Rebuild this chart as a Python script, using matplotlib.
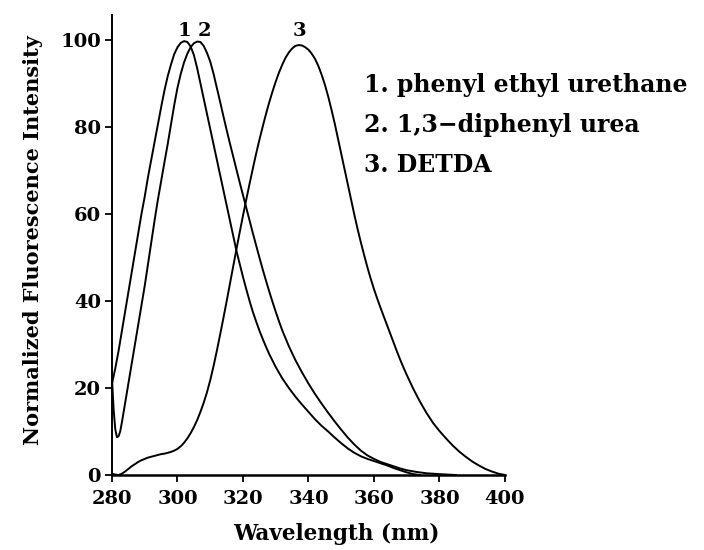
import matplotlib
matplotlib.use("Agg")
import matplotlib.pyplot as plt

# Values (wavelength in nm, normalized intensity)
wl_urethane = [280, 281, 282, 283, 284, 285, 286, 287, 288, 289, 290, 291, 292, 293,
               294, 295, 296, 297, 298, 299, 300, 301, 302, 303, 304, 305, 306, 307,
               308, 309, 310, 311, 312, 313, 314, 315, 316, 317, 318, 319, 320, 321,
               322, 323, 324, 325, 326, 327, 328, 329, 330, 332, 334, 336, 338, 340,
               342, 344, 346, 348, 350, 352, 354, 356, 358, 360, 362, 364, 366, 368,
               370, 372, 374]
int_urethane = [21, 24.5, 28.5, 33, 37.5, 42, 46.5, 51, 55.5, 60, 64, 68.5, 72.5, 76.5,
                80.5, 84.5, 88.3, 91.6, 94.3, 96.7, 98.3, 99.3, 99.7, 99.5, 98.5, 96.5, 93.5, 90,
                86.5, 83, 79.5, 76, 72.5, 69, 65.5, 62, 58.5, 55, 51.5, 48.5, 45.5, 42.7,
                40, 37.5, 35.3, 33.2, 31.3, 29.5, 27.8, 26.3, 24.8, 22.2, 20, 18, 16.2, 14.5,
                12.8, 11.3, 10, 8.6, 7.3, 6.1, 5.1, 4.3, 3.7, 3.2, 2.7, 2.2, 1.6, 1.1,
                0.6, 0.2, 0]

wl_urea = [280, 280.5, 281, 281.5, 282, 282.5, 283, 284, 285, 286, 287, 288, 289, 290,
           291, 292, 293, 294, 295, 296, 297, 298, 299, 300, 301, 302, 303, 304,
           305, 306, 307, 308, 309, 310, 311, 312, 313, 314, 315, 316, 317, 318,
           319, 320, 321, 322, 323, 324, 325, 326, 327, 328, 329, 330, 331, 332,
           334, 336, 338, 340, 342, 344, 346, 348, 350, 352, 354, 356, 358, 360,
           362, 364, 366, 368, 370, 373, 376, 380, 385]
int_urea = [22, 15, 10.5, 8.7, 8.9, 10, 12, 16.5, 21, 25.5, 30, 34.5, 39, 43.5,
            48.5, 53.5, 58.5, 63.2, 67.5, 71.8, 76, 80.5, 85, 89, 92.2, 94.8, 96.8, 98.3,
            99.2, 99.6, 99.5, 98.6, 97, 95, 92.2, 89, 85.8, 82.5, 79.3, 76.2, 73.2, 70.2,
            67.2, 64.3, 61.4, 58.5, 55.6, 52.8, 50, 47.3, 44.7, 42.2, 39.8, 37.5, 35.3, 33.2,
            29.6, 26.4, 23.6, 21, 18.6, 16.4, 14.3, 12.3, 10.4, 8.6, 7, 5.6, 4.5, 3.7,
            3, 2.5, 2, 1.5, 1.1, 0.7, 0.4, 0.2, 0]

wl_detda = [280, 281, 282, 283, 284, 285, 286, 287, 288, 289, 290, 291, 292, 293,
            294, 295, 296, 297, 298, 299, 300, 301, 302, 303, 304, 305, 306, 307,
            308, 309, 310, 311, 312, 313, 314, 315, 316, 317, 318, 319, 320, 321,
            322, 323, 324, 325, 326, 327, 328, 329, 330, 331, 332, 333, 334, 335,
            336, 337, 338, 339, 340, 341, 342, 343, 344, 345, 346, 347, 348, 349,
            350, 351, 352, 353, 354, 355, 356, 357, 358, 359, 360, 361, 362, 363,
            364, 365, 366, 367, 368, 369, 370, 372, 374, 376, 378, 380, 382, 384,
            386, 388, 390, 392, 394, 396, 398, 400]
int_detda = [0.3, 0.1, 0, 0.3, 0.8, 1.4, 2, 2.5, 3, 3.4, 3.7, 4, 4.2, 4.4,
             4.6, 4.8, 4.9, 5.1, 5.3, 5.6, 6, 6.6, 7.4, 8.4, 9.6, 11, 12.6, 14.5,
             16.6, 19, 21.8, 25, 28.5, 32.2, 36, 39.9, 43.9, 47.9, 51.9, 55.8, 59.6, 63.3,
             66.9, 70.4, 73.8, 77, 80, 82.9, 85.6, 88.1, 90.4, 92.5, 94.3, 95.9, 97.1, 98,
             98.6, 98.8, 98.7, 98.3, 97.7, 96.8, 95.6, 94, 92, 89.7, 87, 84, 80.8, 77.3,
             73.8, 70.3, 66.8, 63.3, 59.8, 56.5, 53.4, 50.5, 47.7, 45.1, 42.7, 40.5, 38.4, 36.4,
             34.4, 32.4, 30.4, 28.4, 26.5, 24.7, 23, 19.8, 16.9, 14.3, 12, 10.1, 8.4, 6.8,
             5.4, 4.2, 3.1, 2.2, 1.4, 0.8, 0.3, 0]

peak_labels = ["1", "2", "3"]
peak_pos = [302.2, 308.2, 337.1]
legend_lines = ["1. phenyl ethyl urethane", "2. 1,3\u2212diphenyl urea", "3. DETDA"]

x_ticks = [280, 300, 320, 340, 360, 380, 400]
y_ticks = [0, 20, 40, 60, 80, 100]

plt.rcParams['font.family'] = 'DejaVu Serif'
plt.rcParams['font.weight'] = 'bold'

fig = plt.figure(figsize=(7.04, 5.5), dpi=100)
ax = fig.add_axes([112 / 704, 75 / 550, 393 / 704, 460 / 550])

for wl, inten in [(wl_urethane, int_urethane), (wl_urea, int_urea), (wl_detda, int_detda)]:
    ax.plot(wl, inten, color='black', lw=1.4, clip_on=False, solid_joinstyle='round')

ax.set_xlim(280, 400)
ax.set_ylim(0, 105.7)
ax.set_xticks(x_ticks)
ax.set_yticks(y_ticks)
ax.tick_params(direction='out', length=5, width=1.3, labelsize=14, pad=3)
ax.tick_params(axis='x', pad=6)

for side in ['top', 'right']:
    ax.spines[side].set_visible(False)
ax.spines['left'].set_linewidth(1.4)
ax.spines['bottom'].set_linewidth(1.8)

ax.set_xlabel('Wavelength (nm)', fontsize=15.5, fontweight='bold')
ax.xaxis.set_label_coords(0.571, -0.104)
ax.set_ylabel('Normalized Fluorescence Intensity', fontsize=15, fontweight='bold')
ax.yaxis.set_label_coords(-0.176, 0.51)

for lab, pos in zip(peak_labels, peak_pos):
    ax.text(pos, 102, lab, ha='center', va='center', fontsize=14,
            fontweight='bold', clip_on=False)

for i, line in enumerate(legend_lines):
    fig.text(364 / 704, 1 - (85 + 40 * i) / 550, line, ha='left', va='center',
             fontsize=17, fontweight='bold')

fig.savefig('out.png', dpi=100)
